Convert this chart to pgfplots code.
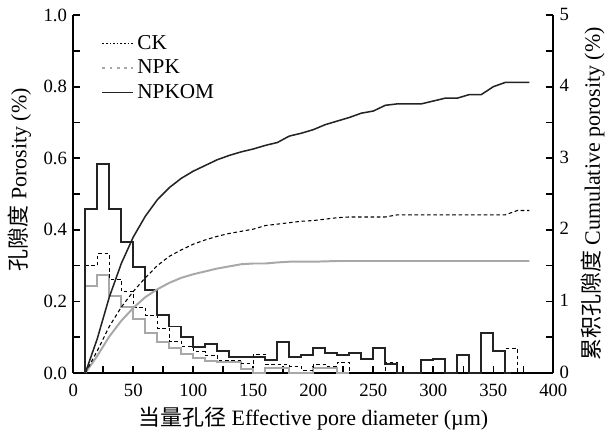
\documentclass[border=0pt]{standalone}
\usepackage{fontspec}
\setmainfont{Liberation Serif}
\newfontfamily\cjk{Noto Sans CJK SC}
\usepackage{pgfplots}
\pgfplotsset{compat=1.18}
\definecolor{npkgray}{RGB}{168,168,168}
\definecolor{dk}{RGB}{35,35,35}
\begin{document}
\begin{tikzpicture}
\useasboundingbox (-40.75pt,-34.47pt) rectangle (297.3pt,207.4pt);
\pgfplotsset{
  common/.style={
    scale only axis, width=266.9pt, height=199pt,
    xmin=0, xmax=400,
    axis line style={line width=0.95pt, -},
    tick align=inside, major tick length=3.8pt, minor tick length=3.8pt,
    every tick/.style={black, line width=0.9pt},
    /pgf/number format/assume math mode=true,
    tick label style={font=\fontsize{10.4}{12}\selectfont},
    label style={font=\fontsize{12.2}{14}\selectfont},
  }
}
\begin{axis}[common,
  ymin=0, ymax=1,
  axis x line*=bottom, axis y line*=left,
  xtick={0,50,100,150,200,250,300,350,400}, minor x tick num=1,
  x tick label style={yshift=-2.4pt},
  ytick={0,0.2,0.4,0.6,0.8,1.0}, minor y tick num=1,
  y tick label style={/pgf/number format/.cd, fixed, fixed zerofill, precision=1, /tikz/.cd},
  xlabel={{\cjk 当量孔径} Effective pore diameter (µm)},
  xlabel style={yshift=1pt},
  ylabel={{\cjk 孔隙度} Porosity (\%)},
  ylabel style={at={(ticklabel cs:0.54)}, xshift=0pt},
  legend style={at={(0.047,0.965)}, anchor=north west, draw=none, fill=none,
    font=\fontsize{11.8}{13}\selectfont, row sep=0.3pt,
    /tikz/every even column/.append style={column sep=5.5pt}},
  legend cell align=left,
  legend image code/.code={\draw[#1] (0pt,0pt) -- (17pt,0pt);},
]
\addlegendimage{black, line width=0.6pt, dash pattern=on 0.9pt off 1.1pt}
\addlegendentry{CK}
\addlegendimage{npkgray, line width=0.9pt, dash pattern=on 1.6pt off 2.4pt}
\addlegendentry{NPK}
\addlegendimage{dk, line width=0.9pt}
\addlegendentry{NPKOM}

% NPK histogram (grey)
\addplot[forget plot, const plot mark left, npkgray, line width=1.1pt] coordinates {
(10,0) (10,0.244) (20,0.273) (30,0.216) (40,0.184) (50,0.150) (60,0.113)
(70,0.088) (80,0.069) (90,0.053) (100,0.041) (110,0.034) (120,0.031)
(130,0.031) (140,0.012) (150,0) (160,0.013) (170,0.013) (180,0) (190,0)
(200,0.013) (210,0.013) (220,0) (230,0)};
% CK histogram (dashed)
\addplot[forget plot, const plot mark left, black, line width=0.6pt, dash pattern=on 2pt off 1.5pt] coordinates {
(10,0) (10,0.300) (20,0.333) (30,0.262) (40,0.228) (50,0.184) (60,0.162)
(70,0.125) (80,0.088) (90,0.074) (100,0.060) (110,0.050) (120,0.036)
(130,0.036) (140,0.027) (150,0.053) (160,0.024) (170,0.024) (180,0.019)
(190,0.008) (200,0.024) (210,0.018) (220,0.030) (230,0) (240,0) (250,0)
(260,0.029) (270,0) (280,0) (290,0) (300,0) (310,0) (320,0) (330,0)
(340,0) (350,0) (360,0.069) (370,0) (375,0)};
% NPKOM histogram (black)
\addplot[forget plot, const plot mark left, dk, line width=1.1pt] coordinates {
(10,0) (10,0.457) (20,0.583) (30,0.459) (40,0.366) (50,0.295) (60,0.232)
(70,0.162) (80,0.130) (90,0.102) (100,0.074) (110,0.081) (120,0.062)
(130,0.044) (140,0.044) (150,0.046) (160,0.036) (170,0.088) (180,0.046)
(190,0.050) (200,0.071) (210,0.055) (220,0.050) (230,0.055) (240,0.038)
(250,0.071) (260,0.025) (270,0) (280,0) (290,0.036) (300,0.039) (310,0)
(320,0.049) (330,0) (340,0.113) (350,0.062) (360,0) (365,0)};
\end{axis}

\begin{axis}[common,
  ymin=0, ymax=5,
  axis x line=none, axis y line*=right,
  ytick={0,1,2,3,4,5}, minor y tick num=1,
  y tick label style={yshift=0.6pt},
  ylabel={{\cjk 累积孔隙度} Cumulative porosity (\%)},
]
% cumulative NPK
\addplot[npkgray, line width=1.1pt] coordinates {
(10,0) (20,0.24) (30,0.51) (40,0.73) (50,0.91) (60,1.06) (70,1.17) (80,1.26)
(90,1.33) (100,1.38) (110,1.42) (120,1.46) (130,1.49) (140,1.52) (150,1.53)
(160,1.53) (170,1.545) (180,1.555) (190,1.555) (200,1.555) (210,1.56)
(220,1.565) (240,1.565) (260,1.565) (280,1.565) (300,1.565) (320,1.565)
(340,1.565) (360,1.565) (380,1.565)};
% cumulative CK
\addplot[black, line width=0.6pt, dash pattern=on 2pt off 1.5pt] coordinates {
(10,0) (20,0.31) (30,0.65) (40,0.92) (50,1.14) (60,1.33) (70,1.50) (80,1.63)
(90,1.72) (100,1.80) (110,1.86) (120,1.91) (130,1.95) (140,1.98) (150,2.01)
(160,2.06) (170,2.08) (180,2.10) (190,2.12) (200,2.13) (210,2.15) (220,2.17)
(230,2.18) (240,2.18) (250,2.18) (260,2.18) (270,2.21) (280,2.21) (300,2.21)
(320,2.21) (340,2.21) (360,2.21) (370,2.27) (380,2.27)};
% cumulative NPKOM
\addplot[dk, line width=0.85pt] coordinates {
(10,0) (20,0.48) (30,1.06) (40,1.53) (50,1.90) (60,2.19) (70,2.42) (80,2.59)
(90,2.72) (100,2.82) (110,2.90) (120,2.98) (130,3.04) (140,3.09) (150,3.13)
(160,3.18) (170,3.22) (180,3.31) (190,3.35) (200,3.40) (210,3.47) (220,3.52)
(230,3.57) (240,3.63) (250,3.66) (260,3.74) (270,3.76) (280,3.76) (290,3.76)
(300,3.80) (310,3.84) (320,3.84) (330,3.89) (340,3.89) (350,4.00) (360,4.06)
(370,4.06) (380,4.06)};
\end{axis}
\end{tikzpicture}
\end{document}
